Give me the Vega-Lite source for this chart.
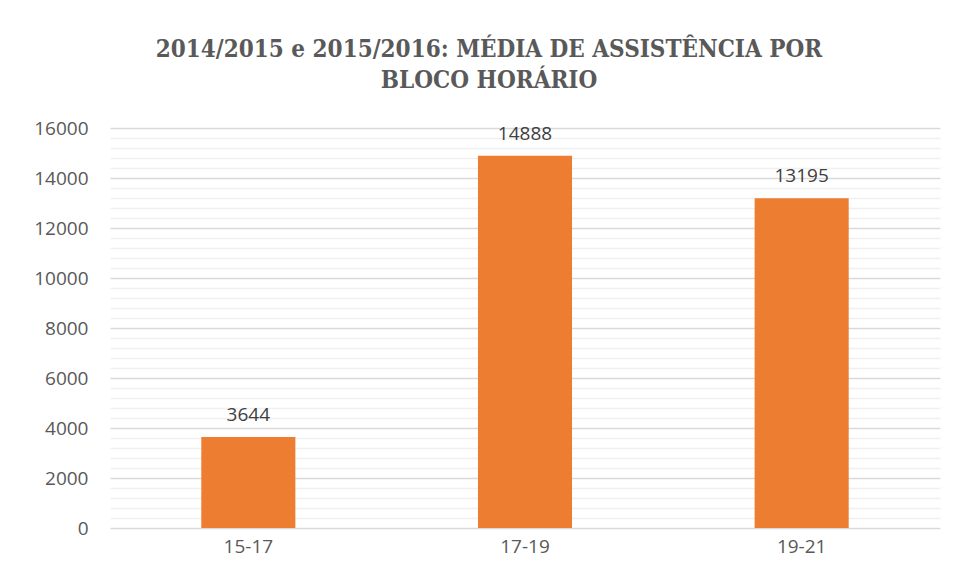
{
  "$schema": "https://vega.github.io/schema/vega-lite/v6.json",
  "width": 830,
  "height": 400,
  "autosize": {"type": "none"},
  "padding": {"left": 110, "top": 128, "right": 16, "bottom": 53},
  "background": "white",
  "config": {"view": {"stroke": null}},
  "title": {
    "text": ["2014/2015 e 2015/2016: MÉDIA DE ASSISTÊNCIA POR", "BLOCO HORÁRIO"],
    "font": "DejaVu Serif Condensed",
    "fontSize": 24,
    "fontWeight": "bold",
    "color": "#595959",
    "lineHeight": 31,
    "anchor": "middle",
    "dx": -36,
    "offset": 26
  },
  "data": {
    "values": [
      {"bloco": "15-17", "media": 3644},
      {"bloco": "17-19", "media": 14888},
      {"bloco": "19-21", "media": 13195}
    ]
  },
  "layer": [
    {
      "mark": {"type": "bar", "color": "#ED7D31"},
      "encoding": {
        "x": {
          "field": "bloco", "type": "nominal", "sort": null,
          "scale": {"paddingInner": 0.66, "paddingOuter": 0.33},
          "axis": {"title": null, "labelAngle": 0, "labelFont": "Open Sans", "labelFontSize": 19, "labelColor": "#595959", "ticks": false, "domain": false, "labelPadding": 9}
        },
        "y": {
          "field": "media", "type": "quantitative",
          "scale": {"domain": [0, 16000], "nice": false},
          "axis": {"title": null, "values": [400,800,1200,1600,2400,2800,3200,3600,4400,4800,5200,5600,6400,6800,7200,7600,8400,8800,9200,9600,10400,10800,11200,11600,12400,12800,13200,13600,14400,14800,15200,15600], "labels": false, "ticks": false, "domain": false, "grid": true, "gridColor": "#f0f0f0", "gridWidth": 1.5, "zindex": 0}
        }
      }
    },
    {
      "mark": {"type": "text", "dy": -22, "font": "Open Sans", "fontSize": 19, "color": "#404040"},
      "encoding": {
        "x": {"field": "bloco", "type": "nominal", "sort": null},
        "y": {
          "field": "media", "type": "quantitative",
          "axis": {"title": null, "orient": "left", "values": [0,2000,4000,6000,8000,10000,12000,14000,16000], "format": "d", "labelFont": "Open Sans", "labelFontSize": 19, "labelColor": "#595959", "ticks": false, "domain": false, "grid": true, "gridColor": "#d9d9d9", "gridWidth": 1.5, "labelPadding": 22, "zindex": 0}
        },
        "text": {"field": "media", "type": "quantitative", "format": "d"}
      }
    }
  ],
  "resolve": {"axis": {"y": "independent"}}
}
